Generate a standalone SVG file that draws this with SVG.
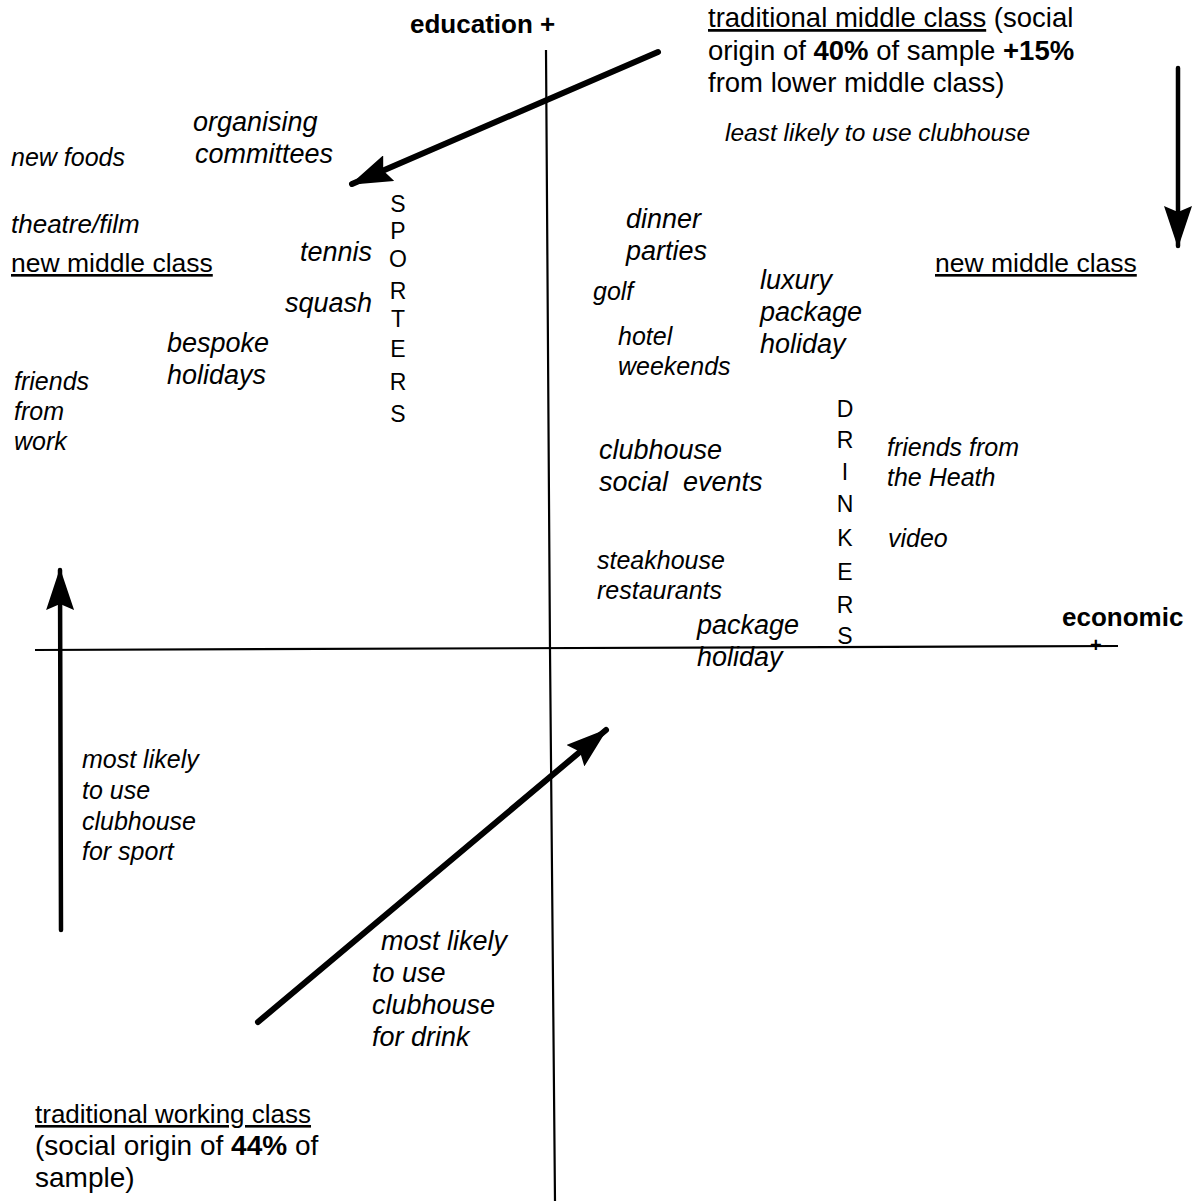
<svg xmlns="http://www.w3.org/2000/svg" width="1200" height="1201" viewBox="0 0 1200 1201">
<style>
text{font-family:"Liberation Sans",Arial,sans-serif;fill:#000}
.i{font-style:italic}
.u{text-decoration:underline}
.b{font-weight:bold}
.h{font-size:26px;font-weight:bold}
.l{font-size:27px}
.m{font-size:28px}
.n{font-size:26.5px}
.t{font-size:27.5px}
.s{font-size:25px}
.v{font-size:23px;text-anchor:middle}
.pre{white-space:pre}
.axis{stroke:#000;stroke-width:2.2;fill:none}
.arr{stroke:#000;stroke-width:6;fill:none;stroke-linecap:round}
.arrv{stroke:#000;stroke-width:4.5;fill:none;stroke-linecap:round}
</style>
<defs>
<marker id="head" markerUnits="userSpaceOnUse" viewBox="0 0 42 28" refX="40" refY="14" markerWidth="42" markerHeight="28" orient="auto">
<path d="M0,0 L42,14 L0,28 L6,14 Z" fill="#000"/>
</marker>
</defs>
<rect width="1200" height="1201" fill="#fff"/>
<g id="connectors">
<path class="axis" d="M546,50 L550,650 L555,1201"/>
<path class="axis" d="M35,650 L1118,646"/>
<line class="arr" x1="658" y1="52" x2="352" y2="184" marker-end="url(#head)"/>
<line class="arrv" x1="1178" y1="68" x2="1178" y2="246" marker-end="url(#head)"/>
<line class="arrv" x1="61" y1="930" x2="60" y2="570" marker-end="url(#head)"/>
<line class="arr" x1="258" y1="1022" x2="606" y2="730" marker-end="url(#head)"/>
</g>
<g id="axis-education"><text class="h" x="410" y="33">education +</text></g>
<g id="axis-economic"><text class="h" x="1062" y="626">economic<tspan x="1090" y="652" font-size="20">+</tspan></text></g>
<g id="traditional-middle-class">
<text class="t" x="708" y="27"><tspan class="u">traditional middle class</tspan> (social<tspan x="708" y="60">origin of </tspan><tspan class="b">40%</tspan> of sample <tspan class="b">+15%</tspan><tspan x="708" y="92">from lower middle class)</tspan></text>
</g>
<g id="least-likely"><text class="i" font-size="24.5" x="725" y="141">least likely to use clubhouse</text></g>
<g id="organising"><text class="l i" x="193" y="131">organising<tspan x="195" y="163">committees</tspan></text></g>
<g id="new-foods"><text class="s i" x="11" y="166">new foods</text></g>
<g id="theatre"><text class="i" font-size="26" x="11" y="233">theatre/film</text></g>
<g id="nmc-left"><text class="n u" x="11" y="272">new middle class</text></g>
<g id="tennis"><text class="l i" x="300" y="261">tennis</text></g>
<g id="squash"><text class="l i" x="285" y="312">squash</text></g>
<g id="bespoke"><text class="l i" x="167" y="352">bespoke<tspan x="167" y="384">holidays</tspan></text></g>
<g id="friends-work"><text class="s i" x="14" y="390">friends<tspan x="14" y="420">from</tspan><tspan x="14" y="450">work</tspan></text></g>
<g id="sporters">
<text class="v" x="398" y="212">S<tspan x="398" y="239">P</tspan><tspan x="398" y="267">O</tspan><tspan x="398" y="299">R</tspan><tspan x="398" y="327">T</tspan><tspan x="398" y="357">E</tspan><tspan x="398" y="390">R</tspan><tspan x="398" y="422">S</tspan></text>
</g>
<g id="dinner"><text class="l i" x="626" y="228">dinner<tspan x="626" y="260">parties</tspan></text></g>
<g id="golf"><text class="s i" x="593" y="300">golf</text></g>
<g id="luxury"><text class="l i" x="760" y="289">luxury<tspan x="760" y="321">package</tspan><tspan x="760" y="353">holiday</tspan></text></g>
<g id="hotel"><text class="s i" x="618" y="345">hotel<tspan x="618" y="375">weekends</tspan></text></g>
<g id="nmc-right"><text class="n u" x="935" y="272">new middle class</text></g>
<g id="drinkers">
<text class="v" x="845" y="417">D<tspan x="845" y="448">R</tspan><tspan x="845" y="480">I</tspan><tspan x="845" y="512">N</tspan><tspan x="845" y="546">K</tspan><tspan x="845" y="580">E</tspan><tspan x="845" y="613">R</tspan><tspan x="845" y="644">S</tspan></text>
</g>
<g id="clubhouse-social"><text class="l i pre" x="599" y="459">clubhouse<tspan x="599" y="491">social  events</tspan></text></g>
<g id="friends-heath"><text class="s i" x="887" y="456">friends from<tspan x="887" y="486">the Heath</tspan></text></g>
<g id="video"><text class="s i" x="888" y="547">video</text></g>
<g id="steakhouse"><text class="s i" x="597" y="569">steakhouse<tspan x="597" y="599">restaurants</tspan></text></g>
<g id="package"><text class="l i" x="697" y="634">package<tspan x="697" y="666">holiday</tspan></text></g>
<g id="sport-label"><text class="s i" x="82" y="768">most likely<tspan x="82" y="799">to use</tspan><tspan x="82" y="830">clubhouse</tspan><tspan x="82" y="860">for sport</tspan></text></g>
<g id="drink-label"><text class="l i" x="381" y="950">most likely<tspan x="372" y="982">to use</tspan><tspan x="372" y="1014">clubhouse</tspan><tspan x="372" y="1046">for drink</tspan></text></g>
<g id="traditional-working-class">
<text class="m" x="35" y="1123"><tspan class="u" font-size="26">traditional working class</tspan><tspan x="35" y="1155">(social origin of </tspan><tspan class="b">44%</tspan> of<tspan x="35" y="1187">sample)</tspan></text>
</g>
</svg>
